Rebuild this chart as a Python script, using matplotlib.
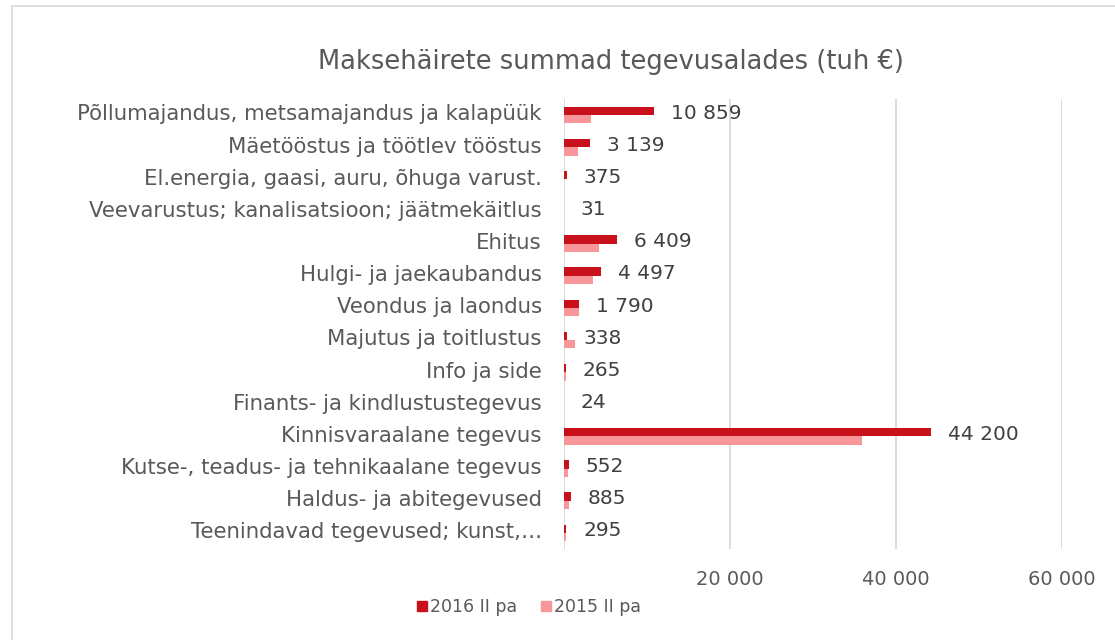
import matplotlib
matplotlib.use("Agg")
import matplotlib.pyplot as plt
from matplotlib.patches import Rectangle
from matplotlib.lines import Line2D
from matplotlib.ticker import FuncFormatter

categories = [
    "Põllumajandus, metsamajandus ja kalapüük",
    "Mäetööstus ja töötlev tööstus",
    "El.energia, gaasi, auru, õhuga varust.",
    "Veevarustus; kanalisatsioon; jäätmekäitlus",
    "Ehitus",
    "Hulgi- ja jaekaubandus",
    "Veondus ja laondus",
    "Majutus ja toitlustus",
    "Info ja side",
    "Finants- ja kindlustustegevus",
    "Kinnisvaraalane tegevus",
    "Kutse-, teadus- ja tehnikaalane tegevus",
    "Haldus- ja abitegevused",
    "Teenindavad tegevused; kunst,…",
]
values_2016 = [10859, 3139, 375, 31, 6409, 4497, 1790, 338, 265, 24, 44200, 552, 885, 295]
values_2015 = [3200, 1650, 0, 0, 4250, 3500, 1800, 1300, 250, 0, 35900, 500, 600, 250]
series_names = ["2016 II pa", "2015 II pa"]
xticks = [0, 20000, 40000, 60000]

RED = "#C8111A"
PINK = "#F8969A"
TXT = "#595959"
GRID = "#D9D9D9"

plt.rcParams['font.family'] = ['DejaVu Sans']

fig = plt.figure(figsize=(11.15, 6.4), dpi=100)
fig.patches.append(Rectangle((12 / 1115, -0.1), 1.2, 1 - 6 / 640 + 0.1, transform=fig.transFigure,
                             fill=False, edgecolor=GRID, linewidth=1.2))

ax = fig.add_axes([564 / 1115, 1 - 549 / 640, (1062 - 564) / 1115, (549 - 99) / 640])
n = len(categories)
ys = list(range(n))
h = 0.26
ax.barh([y - h / 2 for y in ys], values_2016, height=h, color=RED, zorder=3)
ax.barh([y + h / 2 for y in ys], values_2015, height=h, color=PINK, zorder=3)

for y, v in zip(ys, values_2016):
    lab = f"{v:,}".replace(",", " ")
    ax.annotate(lab, xy=(v, y - 0.06), xytext=(12, 0), textcoords="offset points",
                va="center", ha="left", fontsize=14.5, color="#404040")

ax.set_xlim(0, 60000)
ax.set_ylim(n - 0.5, -0.5)
ax.set_yticks([y - 0.08 for y in ys])
ax.set_yticklabels(categories, fontsize=15.3, color=TXT)
ax.set_xticks(xticks)
ax.xaxis.set_major_formatter(FuncFormatter(lambda x, p: "" if x == 0 else f"{int(x):,}".replace(",", " ")))
ax.tick_params(axis="x", length=0, pad=15, labelsize=14, labelcolor=TXT)
ax.tick_params(axis="y", length=0, pad=16)
ax.grid(axis="x", color=GRID, linewidth=1.3, zorder=0)
for s in ax.spines.values():
    s.set_visible(False)

fig.text(611 / 1115, 1 - 62 / 640, "Maksehäirete summad tegevusalades (tuh €)",
         ha="center", va="center", fontsize=18.5, color=TXT)

handles = [Line2D([], [], marker="s", linestyle="none", markersize=7.5, color=RED),
           Line2D([], [], marker="s", linestyle="none", markersize=7.5, color=PINK)]
fig.legend(handles, series_names, loc="center", bbox_to_anchor=(528 / 1115, 1 - 607 / 640),
           ncol=2, frameon=False, fontsize=12.5, labelcolor=TXT, handletextpad=0.05,
           columnspacing=1.3, handlelength=0.8)

fig.savefig("out.png", dpi=100)
